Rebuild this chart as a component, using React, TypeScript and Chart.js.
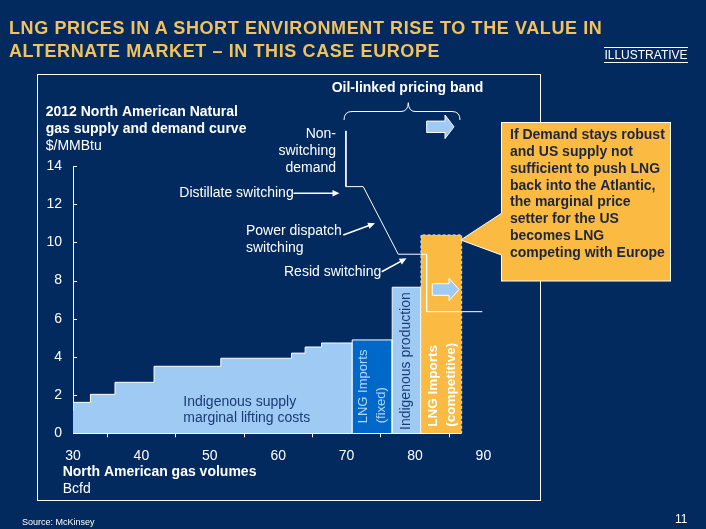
import React, { useEffect, useRef } from 'react';
import { Chart, registerables } from 'chart.js';

Chart.register(...registerables);

const FONT = '"Liberation Sans", Arial, Helvetica, sans-serif';
const NAVY = '#032A5E';
const LIGHT = '#9FCAF4';
const DARK = '#0068C9';
const ORANGE = '#FBBA42';
const GOLD = '#F2C25E';
const TEXTNAVY = '#1B3B75';
const CALLTEXT = '#1C2640';

// Indigenous supply step curve (start of each step, $/MMBtu)
const supplyX = [30, 32.55, 36.14, 41.85, 51.61, 61.95, 63.94, 66.34, 68.68];
const supplyY = [1.17, 1.62, 2.04, 2.67, 3.51, 3.93, 4.2, 4.52, 4.73];
const supplyEnd = 70.82;

// Blocks: LNG imports (fixed), indigenous production, LNG imports (competitive)
const blockStart = [70.82, 76.67, 80.87];
const blockEnd = [76.67, 80.87, 86.82];
const blockPrice = [4.89, 7.65, 10.39];

// Demand curve
const demandX = [69.9, 69.9, 72.43, 77.55, 81.7, 81.7, 89.84];
const demandY = [15.84, 12.92, 12.92, 9.38, 9.38, 6.37, 6.37];

// Axis ticks
const xTickLabels = [30, 40, 50, 60, 70, 80, 90];
const xTickMarks = [35, 45, 55, 65, 75, 85];
const yTicks = [0, 2, 4, 6, 8, 10, 12, 14];

const calloutLines = [
  'If Demand stays robust',
  'and US supply not',
  'sufficient to push LNG',
  'back into the Atlantic,',
  'the marginal price',
  'setter for the US',
  'becomes LNG',
  'competing with Europe',
];

function arrowLine(ctx: CanvasRenderingContext2D, x0: number, y0: number, x1: number, y1: number) {
  const a = Math.atan2(y1 - y0, x1 - x0);
  const L = 7;
  const W = 3.2;
  ctx.beginPath();
  ctx.moveTo(x0, y0);
  ctx.lineTo(x1 - L * 0.7 * Math.cos(a), y1 - L * 0.7 * Math.sin(a));
  ctx.stroke();
  ctx.beginPath();
  ctx.moveTo(x1, y1);
  ctx.lineTo(x1 - L * Math.cos(a) + W * Math.sin(a), y1 - L * Math.sin(a) - W * Math.cos(a));
  ctx.lineTo(x1 - L * Math.cos(a) - W * Math.sin(a), y1 - L * Math.sin(a) + W * Math.cos(a));
  ctx.closePath();
  ctx.fill();
}

function blockArrow(ctx: CanvasRenderingContext2D, x0: number, xh: number, x1: number, yc: number, hs: number, hh: number) {
  ctx.beginPath();
  ctx.moveTo(x0, yc - hs);
  ctx.lineTo(xh, yc - hs);
  ctx.lineTo(xh, yc - hh);
  ctx.lineTo(x1, yc);
  ctx.lineTo(xh, yc + hh);
  ctx.lineTo(xh, yc + hs);
  ctx.lineTo(x0, yc + hs);
  ctx.closePath();
  ctx.fillStyle = LIGHT;
  ctx.fill();
  ctx.strokeStyle = '#ffffff';
  ctx.lineWidth = 1;
  ctx.stroke();
}

const annotations = {
  id: 'annotations',
  afterDraw(chart: any) {
    const ctx: CanvasRenderingContext2D = chart.ctx;
    const xs = chart.scales.x;
    const ys = chart.scales.y;
    const px = (v: number) => xs.getPixelForValue(v);
    const py = (v: number) => ys.getPixelForValue(v);
    const area = chart.chartArea;
    ctx.save();

    // outer frame
    ctx.strokeStyle = '#ffffff';
    ctx.lineWidth = 1;
    ctx.strokeRect(37.5, 74.5, 503, 426);

    // x axis line (to end of supply)
    const y0 = Math.round(py(0)) + 0.5;
    ctx.beginPath();
    ctx.moveTo(area.left, y0);
    ctx.lineTo(px(blockEnd[blockEnd.length - 1]), y0);
    ctx.stroke();

    // inward y ticks
    yTicks.forEach((v) => {
      const yy = Math.round(py(v)) + 0.5;
      ctx.beginPath();
      ctx.moveTo(area.left, yy);
      ctx.lineTo(area.left + 4, yy);
      ctx.stroke();
    });

    const text = (s: string, x: number, y: number, font: string, color: string, align: CanvasTextAlign = 'left') => {
      ctx.font = font;
      ctx.fillStyle = color;
      ctx.textAlign = align;
      ctx.textBaseline = 'middle';
      ctx.fillText(s, x, y);
    };
    const rtext = (s: string, cx: number, bottom: number, font: string, color: string) => {
      ctx.save();
      ctx.translate(cx, bottom);
      ctx.rotate(-Math.PI / 2);
      ctx.font = font;
      ctx.fillStyle = color;
      ctx.textAlign = 'left';
      ctx.textBaseline = 'middle';
      ctx.fillText(s, 0, 0);
      ctx.restore();
    };

    const B14 = `bold 14px ${FONT}`;
    const R14 = `14px ${FONT}`;

    text('2012 North American Natural', 45.7, 112.3, B14, '#ffffff');
    text('gas supply and demand curve', 45.7, 129.3, B14, '#ffffff');
    text('$/MMBtu', 45.7, 146, R14, '#ffffff');

    text('Non-', 336, 134, R14, '#ffffff', 'right');
    text('switching', 336, 151, R14, '#ffffff', 'right');
    text('demand', 336, 168, R14, '#ffffff', 'right');

    text('Distillate switching', 179.3, 192.7, R14, '#ffffff');
    text('Power dispatch', 246, 231, R14, '#ffffff');
    text('switching', 246, 248.3, R14, '#ffffff');
    text('Resid switching', 284, 271.7, R14, '#ffffff');

    ctx.strokeStyle = '#ffffff';
    ctx.fillStyle = '#ffffff';
    ctx.lineWidth = 1.6;
    arrowLine(ctx, 293.5, 193.3, 339.5, 193.3);
    arrowLine(ctx, 343.3, 235, 375, 223.3);
    arrowLine(ctx, 381.7, 271.7, 406.5, 258.3);

    text('Oil-linked pricing band', 407.5, 88, B14, '#ffffff', 'center');

    // brace
    ctx.lineWidth = 1;
    ctx.strokeStyle = '#ffffff';
    ctx.beginPath();
    ctx.moveTo(344, 120);
    ctx.quadraticCurveTo(344, 111.5, 352, 111.5);
    ctx.lineTo(401, 111.5);
    ctx.quadraticCurveTo(408, 111.5, 408.3, 102.7);
    ctx.quadraticCurveTo(408.6, 111.5, 415, 111.5);
    ctx.lineTo(452, 111.5);
    ctx.quadraticCurveTo(460, 111.5, 460, 120);
    ctx.stroke();

    blockArrow(ctx, 426.7, 445, 454, 126.8, 5.7, 11.8);
    blockArrow(ctx, 432.3, 449, 459, 289.5, 5.8, 11.2);

    text('Indigenous supply', 183.3, 402.3, R14, TEXTNAVY);
    text('marginal lifting costs', 183.3, 417.7, R14, TEXTNAVY);

    const R13 = `13px ${FONT}`;
    rtext('LNG Imports', 363.3, 423.3, R13, '#B4D6F8');
    rtext('(fixed)', 381.7, 423.3, R13, '#B4D6F8');
    rtext('Indigenous production', 406, 430, R14, TEXTNAVY);
    const B13 = `bold 13.5px ${FONT}`;
    rtext('LNG Imports', 433.3, 426.7, B13, '#ffffff');
    rtext('(competitive)', 451.7, 426.7, B13, '#ffffff');

    text('North American gas volumes', 62.7, 472.3, B14, '#ffffff');
    text('Bcfd', 62.7, 489, R14, '#ffffff');

    // callout
    ctx.fillStyle = ORANGE;
    ctx.fillRect(501.5, 122.5, 169, 158.5);
    ctx.strokeStyle = '#ffffff';
    ctx.lineWidth = 1;
    ctx.strokeRect(501.5, 122.5, 169, 158.5);
    ctx.beginPath();
    ctx.moveTo(503, 213.3);
    ctx.lineTo(501.5, 213.3);
    ctx.lineTo(460.7, 240);
    ctx.lineTo(501.5, 255);
    ctx.lineTo(503, 255);
    ctx.closePath();
    ctx.fillStyle = ORANGE;
    ctx.fill();
    ctx.beginPath();
    ctx.moveTo(501.5, 213.3);
    ctx.lineTo(460.7, 240);
    ctx.lineTo(501.5, 255);
    ctx.stroke();

    calloutLines.forEach((s, i) => {
      text(s, 510, 135 + i * 16.9, B14, CALLTEXT);
    });

    ctx.restore();
  },
};

export default function App() {
  const ref = useRef<HTMLCanvasElement | null>(null);

  useEffect(() => {
    if (!ref.current) return;
    const supplyData = supplyX.map((x, i) => ({ x, y: supplyY[i] }));
    supplyData.push({ x: supplyEnd, y: supplyY[supplyY.length - 1] });
    supplyData.push({ x: supplyEnd, y: 0 });
    const rect = (i: number) => [
      { x: blockStart[i], y: 0 },
      { x: blockStart[i], y: blockPrice[i] },
      { x: blockEnd[i], y: blockPrice[i] },
      { x: blockEnd[i], y: 0 },
    ];
    const demandData = demandX.map((x, i) => ({ x, y: demandY[i] }));

    const chart = new Chart(ref.current, {
      type: 'line',
      data: {
        datasets: [
          {
            label: 'Demand',
            data: demandData,
            borderColor: '#ffffff',
            borderWidth: 1,
            fill: false,
            pointRadius: 0,
            clip: false as any,
          },
          {
            label: 'LNG Imports (competitive)',
            data: rect(2),
            borderColor: '#E6E6E6',
            borderWidth: 1,
            borderDash: [3, 2],
            backgroundColor: ORANGE,
            fill: 'origin',
            pointRadius: 0,
          },
          {
            label: 'Indigenous production',
            data: rect(1),
            borderColor: '#ffffff',
            borderWidth: 1,
            backgroundColor: LIGHT,
            fill: 'origin',
            pointRadius: 0,
          },
          {
            label: 'LNG Imports (fixed)',
            data: rect(0),
            borderColor: '#ffffff',
            borderWidth: 1,
            backgroundColor: DARK,
            fill: 'origin',
            pointRadius: 0,
          },
          {
            label: 'Indigenous supply',
            data: supplyData,
            stepped: 'after',
            borderColor: '#ffffff',
            borderWidth: 1,
            backgroundColor: LIGHT,
            fill: 'origin',
            pointRadius: 0,
          },
        ],
      },
      options: {
        responsive: false,
        animation: false,
        devicePixelRatio: 1,
        events: [],
        layout: { padding: { top: 166, left: 0, right: 222.6, bottom: 65.7 } },
        plugins: { legend: { display: false }, tooltip: { enabled: false } },
        scales: {
          x: {
            type: 'linear',
            min: 30,
            max: 90,
            afterFit: (s: any) => {
              s.height = 30;
            },
            afterBuildTicks: (s: any) => {
              s.ticks = [...xTickLabels, ...xTickMarks].sort((a, b) => a - b).map((v) => ({ value: v }));
            },
            ticks: {
              autoSkip: false,
              maxRotation: 0,
              color: '#ffffff',
              font: { family: FONT, size: 14 },
              padding: 10,
              callback: (v: any) => (xTickLabels.includes(Number(v)) ? String(v) : ''),
            },
            grid: {
              drawOnChartArea: false,
              drawTicks: true,
              tickLength: 4,
              tickColor: (c: any) => (c.tick && xTickMarks.includes(c.tick.value) ? '#ffffff' : 'rgba(0,0,0,0)'),
            },
            border: { display: false },
          },
          y: {
            min: 0,
            max: 14,
            afterFit: (s: any) => {
              s.width = 73;
            },
            afterBuildTicks: (s: any) => {
              s.ticks = yTicks.map((v) => ({ value: v }));
            },
            ticks: {
              color: '#ffffff',
              font: { family: FONT, size: 14 },
              padding: 11,
            },
            grid: { drawOnChartArea: false, drawTicks: false },
            border: { display: true, color: '#ffffff', width: 1 },
          },
        },
      },
      plugins: [annotations],
    } as any);
    return () => chart.destroy();
  }, []);

  return (
    <div
      style={{
        position: 'fixed',
        left: 0,
        top: 0,
        width: 706,
        height: 529,
        background: NAVY,
        overflow: 'hidden',
        fontFamily: FONT,
      }}
    >
      <canvas ref={ref} width={706} height={529} style={{ position: 'absolute', left: 0, top: 0, display: 'block' }} />
      <div
        style={{
          position: 'absolute',
          left: 9,
          top: 17,
          color: GOLD,
          fontWeight: 'bold',
          fontSize: 18,
          letterSpacing: '0.6px',
          lineHeight: '23.3px',
          whiteSpace: 'nowrap',
        }}
      >
        LNG PRICES IN A SHORT ENVIRONMENT RISE TO THE VALUE IN
        <br />
        ALTERNATE MARKET – IN THIS CASE EUROPE
      </div>
      <div
        style={{
          position: 'absolute',
          left: 604,
          top: 47,
          width: 84,
          height: 14,
          borderTop: '1px solid #ffffff',
          borderBottom: '1px solid #ffffff',
          color: '#ffffff',
          fontSize: 12,
          lineHeight: '14px',
          textAlign: 'center',
          whiteSpace: 'nowrap',
        }}
      >
        ILLUSTRATIVE
      </div>
      <div style={{ position: 'absolute', left: 22, top: 516, color: '#ffffff', fontSize: 9, lineHeight: '12px' }}>
        Source: McKinsey
      </div>
      <div style={{ position: 'absolute', left: 675, top: 513, color: '#ffffff', fontSize: 12, lineHeight: '13px' }}>
        11
      </div>
    </div>
  );
}
